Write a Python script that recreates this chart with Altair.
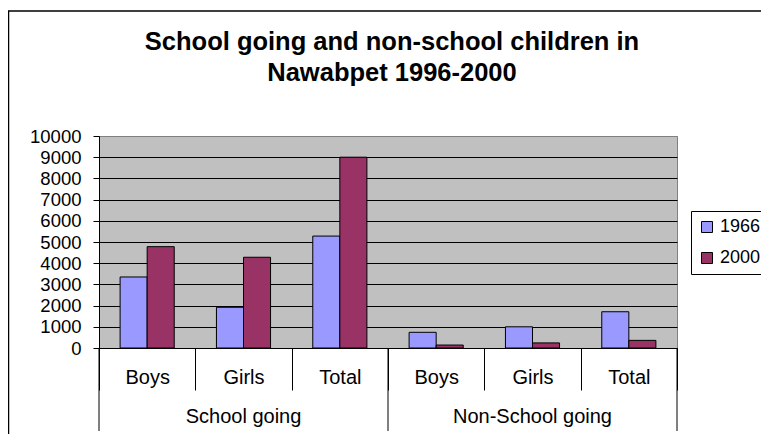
import altair as alt
import pandas as pd

FONT = "Liberation Sans"

# ---- data ----
groups = ["School going", "School going", "School going",
          "Non-School going", "Non-School going", "Non-School going"]
subs = ["Boys", "Girls", "Total", "Boys", "Girls", "Total"]
ids = ["S|Boys", "S|Girls", "S|Total", "N|Boys", "N|Girls", "N|Total"]
years = ["1966", "2000"]
v1966 = [3350, 1920, 5280, 740, 1000, 1710]
v2000 = [4780, 4280, 9000, 140, 240, 360]
colors = ["#9999FF", "#993366"]
y_ticks = [0, 1000, 2000, 3000, 4000, 5000, 6000, 7000, 8000, 9000, 10000]
title_lines = ["School going and non-school children in", "Nawabpet 1996-2000"]

rows = []
for i in range(len(ids)):
    rows.append({"cat": ids[i], "year": years[0], "value": v1966[i]})
    rows.append({"cat": ids[i], "year": years[1], "value": v2000[i]})
df = pd.DataFrame(rows)

# group labels sit under the middle category of each group
grp_df = pd.DataFrame({"cat": [ids[1], ids[4]], "label": [groups[1], groups[4]]})
sep_start = pd.DataFrame({"cat": [ids[0], ids[3]]})
sep_end = pd.DataFrame({"cat": [ids[5]]})
one_df = pd.DataFrame({"f": [0]})

xscale = alt.Scale(domain=ids, paddingInner=0, paddingOuter=0)

frame = alt.Chart(one_df).mark_rect(
    fillOpacity=0, stroke="black", strokeWidth=1.5
).encode(
    x=alt.value(-90.5), x2=alt.value(720), y=alt.value(-125), y2=alt.value(400)
)

title = alt.Chart(one_df).mark_text(
    text=title_lines, fontSize=25.5, font=FONT, fontWeight="bold",
    baseline="alphabetic", align="center", lineHeight=31, color="black",
).encode(
    x=alt.value(293), y=alt.value(-86)
)

bars = alt.Chart(df).mark_bar(stroke="black", strokeWidth=1).encode(
    x=alt.X(
        "cat:N",
        scale=xscale,
        axis=alt.Axis(
            title=None,
            labelExpr="split(datum.label, '|')[1]",
            labelFontSize=20, labelFont=FONT, labelColor="black",
            labelAngle=0, labelBaseline="alphabetic", labelPadding=-7,
            tickSize=42, tickColor="black", tickBand="extent",
            domainColor="black", grid=False,
        ),
    ),
    xOffset=alt.XOffset("year:N", scale=alt.Scale(domain=years, paddingInner=0, paddingOuter=0.78)),
    y=alt.Y(
        "value:Q",
        scale=alt.Scale(domain=[0, 10000], nice=False),
        axis=alt.Axis(
            title=None, values=y_ticks, format="d",
            labelFontSize=18.5, labelFont=FONT, labelColor="black",
            labelPadding=12, tickSize=6, tickColor="black",
            domainColor="black", grid=True,
            gridColor={"condition": {"test": "datum.value >= 10000", "value": "#808080"}, "value": "black"},
            gridWidth=1,
        ),
    ),
    color=alt.Color(
        "year:N",
        scale=alt.Scale(domain=years, range=colors),
        legend=alt.Legend(
            title=None, orient="none", legendX=592, legendY=75,
            symbolType="square", symbolSize=121, symbolStrokeColor="black",
            symbolStrokeWidth=1, symbolOpacity=1,
            labelFontSize=18, labelFont=FONT, labelColor="black", labelOffset=4,
            rowPadding=13, padding=7,
            strokeColor="black", fillColor="white",
        ),
    ),
)

rules_a = alt.Chart(sep_start).mark_rule(color="black", strokeWidth=1).encode(
    x=alt.X("cat:N", bandPosition=0, scale=xscale, axis=alt.Axis(title=None)),
    y=alt.value(212), y2=alt.value(295),
)
rules_b = alt.Chart(sep_end).mark_rule(color="black", strokeWidth=1).encode(
    x=alt.X("cat:N", bandPosition=1, scale=xscale, axis=alt.Axis(title=None)),
    y=alt.value(212), y2=alt.value(295),
)

grp_text = alt.Chart(grp_df).mark_text(
    fontSize=20, font=FONT, baseline="alphabetic", color="black"
).encode(
    x=alt.X("cat:N", scale=xscale, axis=alt.Axis(title=None)),
    y=alt.value(287),
    text="label:N",
)

chart = alt.layer(frame, title, bars, rules_a, rules_b, grp_text).properties(
    width=578,
    height=212,
    autosize=alt.AutoSizeParams(type="none"),
    padding={"left": 91, "top": 128, "right": 84, "bottom": 86},
    background="white",
).configure_view(
    fill="#C0C0C0", stroke="#808080", strokeWidth=1
)

chart.save("out.html", embed_options={"renderer": "svg", "actions": False})
